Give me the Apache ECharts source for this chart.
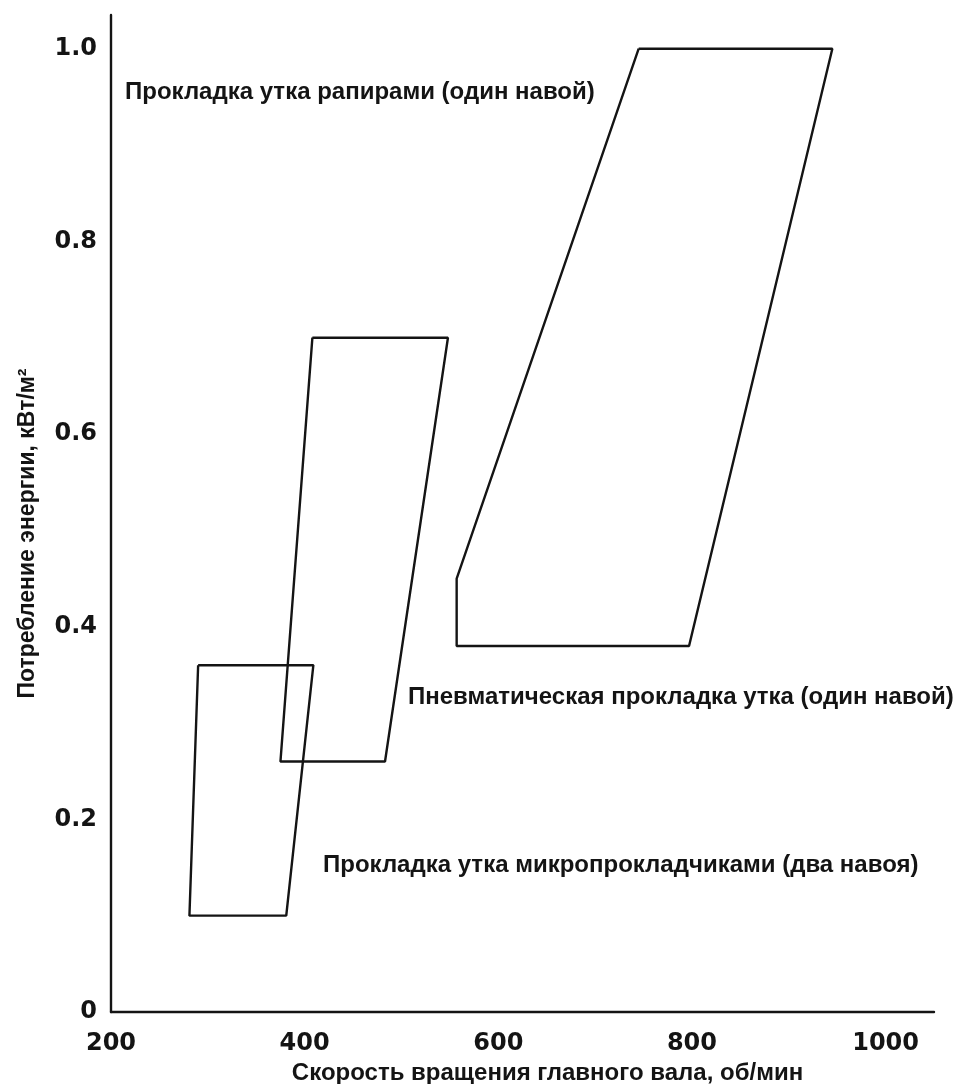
<!DOCTYPE html>
<html>
<head>
<meta charset="utf-8">
<script src="https://cdn.jsdelivr.net/npm/echarts@6/dist/echarts.min.js"></script>
<style>
html,body{margin:0;padding:0;background:#fff;}
#chart{width:971px;height:1084px;}
</style>
</head>
<body>
<div id="chart"></div>
<script>
// Data (speed, rpm ; energy, kW/m^2) — polygon outlines, first point repeated to close
var rapierZone = [[745, 1.0], [945, 1.0], [797, 0.38], [557, 0.38], [557, 0.45], [745, 1.0]];
var airJetZone = [[408, 0.70], [548, 0.70], [483, 0.26], [375, 0.26], [408, 0.70]];
var projectileZone = [[290, 0.36], [409, 0.36], [381, 0.10], [281, 0.10], [290, 0.36]];

var xTickLabels = ['200', '400', '600', '800', '1000'];
var yTickLabels = ['0', '0.2', '0.4', '0.6', '0.8', '1.0'];

var labelRapier = 'Прокладка утка рапирами (один навой)';
var labelAirJet = 'Пневматическая прокладка утка (один навой)';
var labelProjectile = 'Прокладка утка микропрокладчиками (два навоя)';
var xName = 'Скорость вращения главного вала, об/мин';
var yName = 'Потребление энергии, кВт/м²';

var chart = echarts.init(document.getElementById('chart'), null, {renderer: 'canvas'});
var txtFont = 'Liberation Sans, Arial, sans-serif';
var tickFont = 'DejaVu Sans, sans-serif';
var ink = '#141414';

function polySeries(name, data) {
  return {
    name: name, type: 'line', data: data, symbol: 'none', smooth: false,
    lineStyle: {color: ink, width: 2.4}, silent: true, animation: false, z: 3
  };
}

chart.setOption({
  animation: false,
  backgroundColor: '#fff',
  grid: {left: 111, right: 37, top: 15, bottom: 72, containLabel: false, outerBoundsMode: 'none'},
  xAxis: {
    type: 'value', min: 200, max: 1050, interval: 200,
    name: xName, nameLocation: 'middle', nameGap: 42,
    nameTextStyle: {fontFamily: txtFont, fontWeight: 'bold', fontSize: 24, color: ink, padding: [0, 0, 0, 50]},
    axisLine: {show: true, onZero: false, lineStyle: {color: ink, width: 2.4}},
    axisTick: {show: false},
    splitLine: {show: false},
    axisLabel: {
      showMaxLabel: false, margin: 20, fontFamily: tickFont, fontWeight: 'bold', fontSize: 24, color: ink,
      formatter: function (v) { var i = Math.round((v - 200) / 200); return xTickLabels[i] || ''; }
    }
  },
  yAxis: {
    type: 'value', min: 0, max: 1.035, interval: 0.2,
    name: yName, nameLocation: 'middle', nameGap: 72,
    nameTextStyle: {fontFamily: txtFont, fontWeight: 'bold', fontSize: 23, color: ink, padding: [0, 40, 0, 0]},
    axisLine: {show: true, onZero: false, lineStyle: {color: ink, width: 2.4}},
    axisTick: {show: false},
    splitLine: {show: false},
    axisLabel: {
      showMaxLabel: false, margin: 14, fontFamily: tickFont, fontWeight: 'bold', fontSize: 24, color: ink,
      formatter: function (v) { var i = Math.round(v / 0.2); return yTickLabels[i] || ''; }
    }
  },
  series: [
    polySeries('rapier', rapierZone),
    polySeries('airjet', airJetZone),
    polySeries('projectile', projectileZone)
  ],
  graphic: [
    {type: 'text', left: 125, top: 80, style: {text: labelRapier, font: 'bold 24px ' + txtFont, fill: ink}},
    {type: 'text', left: 408, top: 685, style: {text: labelAirJet, font: 'bold 24px ' + txtFont, fill: ink}},
    {type: 'text', left: 323, top: 853, style: {text: labelProjectile, font: 'bold 24px ' + txtFont, fill: ink}}
  ]
});
</script>
</body>
</html>
